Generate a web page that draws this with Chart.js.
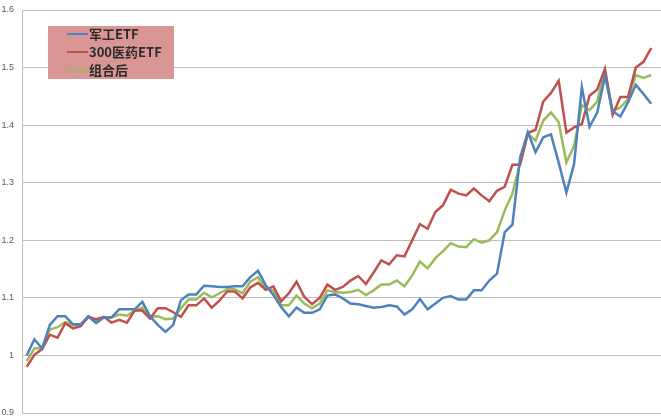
<!DOCTYPE html>
<html>
<head>
<meta charset="utf-8">
<script src="https://cdn.jsdelivr.net/npm/chart.js@4/dist/chart.umd.min.js"></script>
<style>
  html,body{margin:0;padding:0;background:#fff;}
  #wrap{position:relative;width:661px;height:417px;}
  #legend{position:absolute;left:48px;top:26px;width:126px;height:53px;background:#D99694;
    font:bold 13px "Noto Sans CJK SC","Liberation Sans",sans-serif;color:#2b2b2b;}
  #legend div{position:absolute;left:19px;height:18px;line-height:18px;white-space:nowrap;}
  #legend i{display:inline-block;width:21px;height:2px;vertical-align:middle;margin-right:1px;position:relative;top:-1px;}
</style>
</head>
<body>
<div id="wrap">
  <canvas id="c" width="661" height="417"></canvas>
  <div id="legend"></div>
</div>
<script>
// series names
const names = ['军工ETF', '300医药ETF', '组合后'];
const colors = ['#4F81BD', '#C0504D', '#9BBB59'];

// 军工ETF
const blue = [1.000,1.028,1.012,1.053,1.068,1.068,1.054,1.054,1.068,1.056,
  1.066,1.066,1.080,1.080,1.080,1.093,1.068,1.053,1.041,1.053,
  1.096,1.106,1.106,1.121,1.120,1.119,1.119,1.120,1.120,1.136,
  1.147,1.122,1.105,1.084,1.068,1.083,1.074,1.074,1.080,1.104,
  1.106,1.099,1.090,1.089,1.086,1.083,1.084,1.087,1.085,1.071,
  1.080,1.098,1.080,1.090,1.100,1.103,1.097,1.097,1.113,1.113,
  1.130,1.142,1.214,1.227,1.344,1.388,1.353,1.379,1.384,1.335,
  1.283,1.333,1.466,1.397,1.422,1.485,1.424,1.415,1.440,1.470,
  1.454,1.437];

// 300医药ETF
const red = [0.980,1.001,1.011,1.036,1.031,1.056,1.047,1.051,1.067,1.063,
  1.067,1.057,1.062,1.057,1.078,1.078,1.064,1.082,1.082,1.075,
  1.067,1.087,1.087,1.099,1.083,1.095,1.111,1.111,1.099,1.118,
  1.126,1.114,1.120,1.094,1.108,1.128,1.102,1.089,1.100,1.123,
  1.114,1.119,1.130,1.138,1.124,1.144,1.165,1.158,1.174,1.172,
  1.200,1.228,1.220,1.249,1.261,1.288,1.281,1.278,1.290,1.278,
  1.268,1.286,1.293,1.331,1.331,1.386,1.392,1.441,1.456,1.477,
  1.387,1.396,1.402,1.451,1.462,1.498,1.418,1.449,1.449,1.500,
  1.510,1.534];

// 组合后
const green = [0.990,1.012,1.013,1.045,1.049,1.058,1.053,1.053,1.068,1.060,
  1.066,1.066,1.071,1.069,1.078,1.083,1.067,1.068,1.063,1.064,
  1.082,1.097,1.097,1.109,1.101,1.108,1.115,1.115,1.108,1.128,
  1.136,1.116,1.113,1.087,1.087,1.104,1.090,1.082,1.090,1.113,
  1.110,1.109,1.110,1.114,1.105,1.113,1.123,1.123,1.130,1.120,
  1.139,1.163,1.151,1.169,1.181,1.195,1.189,1.188,1.202,1.196,
  1.200,1.214,1.252,1.281,1.335,1.385,1.373,1.408,1.422,1.405,
  1.335,1.364,1.435,1.426,1.441,1.494,1.424,1.431,1.445,1.487,
  1.482,1.487];

const yTicks = [0.9, 1, 1.1, 1.2, 1.3, 1.4, 1.5, 1.6];

const series = [blue, red, green];

// legend box
const lg = document.getElementById('legend');
names.forEach((n,i)=>{
  lg.insertAdjacentHTML('beforeend',
    `<div style="top:${-1+i*18}px"><i style="background:${colors[i]}"></i>${n}</div>`);
});

new Chart(document.getElementById('c'), {
  type: 'line',
  data: {
    datasets: series.map((arr,i)=>({
      label: names[i],
      data: arr.map((v,j)=>({x:j, y:v})),
      borderColor: colors[i],
      borderWidth: 2.5,
      pointRadius: 0,
      tension: 0,
      fill: false
    }))
  },
  options: {
    responsive: false,
    animation: false,
    layout: {padding: {top: 10, right: 0, left: 0, bottom: 4}},
    plugins: {legend: {display: false}, tooltip: {enabled: false}},
    scales: {
      x: {
        type: 'linear',
        display: false,
        min: -0.61,
        max: 82.27
      },
      y: {
        min: 0.9,
        max: 1.6,
        afterBuildTicks: s => { s.ticks = yTicks.map(v=>({value:v})); },
        ticks: {
          padding: 8,
          color: '#595959',
          font: {family: 'Liberation Sans', size: 9},
          callback: v => String(+v.toFixed(1))
        },
        grid: {color: '#BFBFBF', lineWidth: 1, drawTicks: false},
        border: {display: true, color: '#BFBFBF', width: 1},
        afterFit: s => { s.width = 22; s.paddingTop = 0; s.paddingBottom = 0; }
      }
    }
  }
});
</script>
</body>
</html>
